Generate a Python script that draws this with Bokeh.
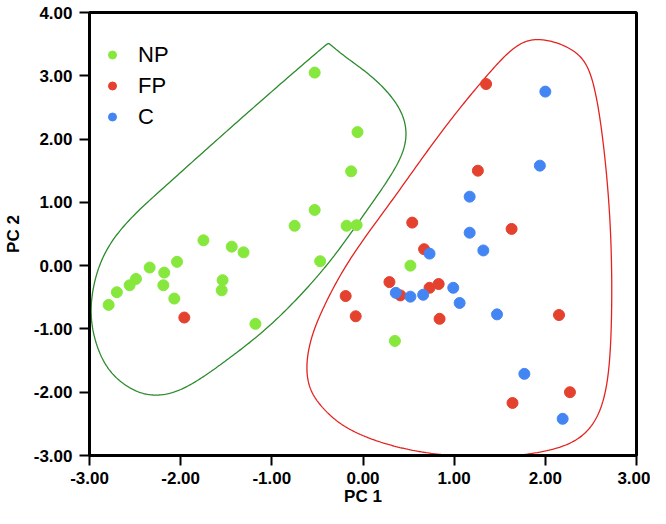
import numpy as np
from bokeh.plotting import figure
from bokeh.models import Range1d, FixedTicker, NumeralTickFormatter, Legend, LegendItem
from bokeh.embed import file_html
from bokeh.resources import INLINE

# ---- data (PC scores) ----
np_x = [-0.53, -0.53, -0.75, -1.75, -1.44, -1.31, -2.04, -0.47, -0.06, -0.13, -0.18, -0.07, 0.52,
        -2.34, -2.18, -2.49, -2.56, -2.70, -2.79, -2.19, -2.07, -1.54, -1.55, -1.18, 0.35]
np_y = [3.05, 0.88, 0.63, 0.40, 0.30, 0.21, 0.06, 0.07, 2.11, 1.49, 0.63, 0.64, 0.00,
        -0.03, -0.11, -0.21, -0.31, -0.42, -0.62, -0.31, -0.52, -0.23, -0.39, -0.92, -1.19]

fp_x = [-1.96, 0.29, -0.19, -0.08, 0.41, 0.73, 0.83, 0.84, 2.15, 2.27, 1.64, 1.35, 1.26, 0.54, 1.63, 0.67]
fp_y = [-0.82, -0.26, -0.48, -0.80, -0.47, -0.35, -0.29, -0.84, -0.78, -2.00, -2.17, 2.87, 1.50, 0.68, 0.58, 0.26]

c_x = [0.36, 0.52, 0.66, 0.99, 1.06, 1.47, 1.77, 2.19, 2.00, 1.94, 1.17, 1.17, 1.32, 0.73]
c_y = [-0.43, -0.49, -0.46, -0.35, -0.59, -0.77, -1.71, -2.42, 2.75, 1.58, 1.09, 0.52, 0.24, 0.19]

# control points of the two hand-drawn group envelopes (smoothed with a closed B-spline)
green_hull_x = [-0.38, -0.38, -0.74, -1.47, -2.18, -2.60, -2.88, -3.00, -2.97, -2.82, -2.55, -2.29,
                -1.96, -1.47, -0.99, -0.39, -0.03, 0.33, 0.50, 0.45, 0.15, -0.20]
green_hull_y = [3.52, 3.52, 3.08, 2.16, 1.24, 0.70, 0.15, -0.55, -1.10, -1.65, -1.97, -2.08,
                -1.98, -1.47, -0.94, -0.02, 0.73, 1.45, 1.95, 2.45, 2.95, 3.30]
red_hull_x = [1.95, 2.38, 2.53, 2.63, 2.70, 2.73, 2.73, 2.69, 2.52, 2.15, 1.41, 0.69, 0.15, -0.22,
              -0.43, -0.59, -0.63, -0.58, -0.46, -0.17, 0.33, 0.87, 1.41, 1.69]
red_hull_y = [3.62, 3.40, 2.97, 2.07, 1.04, 0.09, -0.94, -1.98, -2.62, -2.93, -3.05, -2.98, -2.79, -2.55,
              -2.28, -1.98, -1.60, -1.17, -0.72, 0.09, 1.04, 2.16, 3.10, 3.52]

x_ticks = [-3, -2, -1, 0, 1, 2, 3]
y_ticks = [-3, -2, -1, 0, 1, 2, 3, 4]

GREEN = "#86e83c"
RED = "#e5412f"
BLUE = "#4386f3"


def smooth_closed(xs, ys, n=24):
    """closed uniform cubic B-spline through the given control polygon"""
    pts = np.column_stack([xs, ys]).astype(float)
    N = len(pts)
    t = np.linspace(0, 1, n, endpoint=False)[:, None]
    b0 = (1 - t) ** 3 / 6
    b1 = (3 * t ** 3 - 6 * t ** 2 + 4) / 6
    b2 = (-3 * t ** 3 + 3 * t ** 2 + 3 * t + 1) / 6
    b3 = t ** 3 / 6
    segs = []
    for i in range(N):
        p0, p1, p2, p3 = pts[(i - 1) % N], pts[i], pts[(i + 1) % N], pts[(i + 2) % N]
        segs.append(b0 * p0 + b1 * p1 + b2 * p2 + b3 * p3)
    out = np.vstack(segs + [segs[0][:1]])
    return out[:, 0], out[:, 1]


p = figure(width=650, height=508, output_backend="svg", toolbar_location=None,
           x_range=Range1d(-3, 3), y_range=Range1d(-3, 4),
           min_border_left=85, min_border_right=14, min_border_top=12, min_border_bottom=50)

p.grid.visible = False
p.outline_line_color = "black"
p.outline_line_width = 3
p.background_fill_color = "white"

gx, gy = smooth_closed(green_hull_x, green_hull_y)
rx, ry = smooth_closed(red_hull_x, red_hull_y)
p.line(gx, gy, line_color="#2b8a2b", line_width=1.3)
p.line(rx, ry, line_color="#e3231f", line_width=1.3)

r_np = p.scatter(np_x, np_y, size=11, fill_color=GREEN, line_color=GREEN)
r_fp = p.scatter(fp_x, fp_y, size=11, fill_color=RED, line_color=RED)
r_c = p.scatter(c_x, c_y, size=11, fill_color=BLUE, line_color=BLUE)

for ax, ticks in ((p.xaxis[0], x_ticks), (p.yaxis[0], y_ticks)):
    ax.ticker = FixedTicker(ticks=ticks)
    ax.formatter = NumeralTickFormatter(format="0.00")
    ax.axis_line_width = 3
    ax.axis_line_color = "black"
    ax.major_tick_line_width = 2
    ax.major_tick_line_color = "black"
    ax.major_tick_out = 10
    ax.major_tick_in = 0
    ax.minor_tick_line_color = None
    ax.major_label_text_font = "Liberation Sans"
    ax.major_label_text_font_style = "bold"
    ax.major_label_text_font_size = "17px"
    ax.major_label_text_color = "black"
    ax.axis_label_text_font = "Liberation Sans"
    ax.axis_label_text_font_style = "bold"
    ax.axis_label_text_font_size = "17px"
    ax.axis_label_text_color = "black"

p.xaxis.axis_label = "PC 1"
p.yaxis.axis_label = "PC 2"
p.xaxis.major_label_standoff = 6
p.yaxis.major_label_standoff = 7
p.xaxis.axis_label_standoff = 0
p.yaxis.axis_label_standoff = 8

legend = Legend(items=[LegendItem(label="NP", renderers=[r_np]),
                       LegendItem(label="FP", renderers=[r_fp]),
                       LegendItem(label="C", renderers=[r_c])],
                location=(8, 318), padding=5, margin=0, spacing=0,
                glyph_width=20, glyph_height=31, label_height=31, label_standoff=16,
                label_text_font="Liberation Sans", label_text_font_size="22px",
                label_text_color="black", border_line_alpha=0,
                background_fill_color="white", background_fill_alpha=1)
p.add_layout(legend)

open("out.html", "w").write(file_html(p, INLINE))
